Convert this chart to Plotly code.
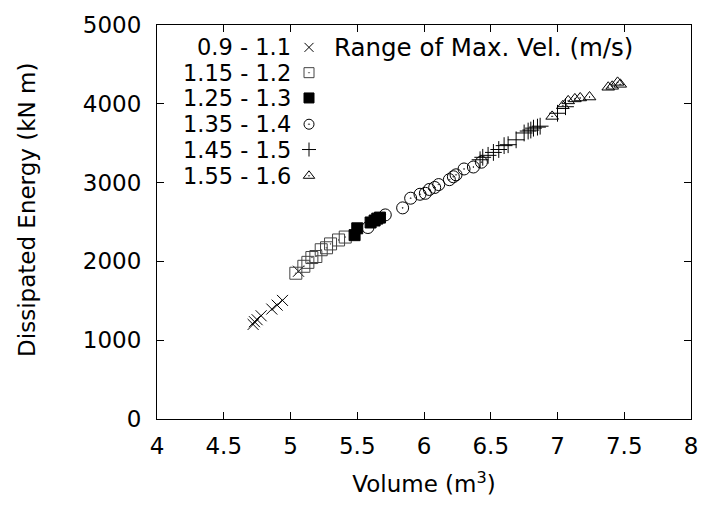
import plotly.graph_objects as go

# ---- data ----
labels = ["0.9 - 1.1", "1.15 - 1.2", "1.25 - 1.3", "1.35 - 1.4", "1.45 - 1.5", "1.55 - 1.6"]
legend_title = "Range of Max. Vel. (m/s)"
x_title = "Volume (m<sup>3</sup>)"
y_title = "Dissipated Energy (kN m)"

vol_1 = [4.72, 4.73, 4.75, 4.78, 4.86, 4.90, 4.94, 5.06]
en_1 = [1200, 1235, 1260, 1310, 1395, 1445, 1505, 1875]

vol_2 = [5.04, 5.10, 5.13, 5.16, 5.19, 5.23, 5.27, 5.30, 5.36, 5.41]
en_2 = [1850, 1938, 1988, 2049, 2062, 2148, 2173, 2222, 2272, 2309]

vol_3 = [5.48, 5.50, 5.60, 5.63, 5.65, 5.67]
en_3 = [2333, 2420, 2494, 2519, 2543, 2556]

vol_4 = [5.58, 5.71, 5.84, 5.90, 5.97, 6.01, 6.04, 6.08, 6.11, 6.19, 6.22, 6.24, 6.30, 6.37, 6.43]
en_4 = [2430, 2590, 2679, 2802, 2852, 2864, 2913, 2938, 2975, 3037, 3074, 3099, 3173, 3198, 3259]

vol_5 = [6.42, 6.44, 6.48, 6.52, 6.56, 6.60, 6.63, 6.69, 6.75, 6.78, 6.80, 6.82, 6.85, 6.87, 7.00, 7.06]
en_5 = [3290, 3321, 3346, 3383, 3420, 3469, 3481, 3543, 3630, 3654, 3667, 3691, 3704, 3716, 3880, 3963]

vol_6 = [6.96, 7.04, 7.08, 7.13, 7.17, 7.24, 7.38, 7.41, 7.45, 7.47]
en_6 = [3840, 3975, 4037, 4062, 4074, 4086, 4210, 4222, 4272, 4247]

x_ticks = [4, 4.5, 5, 5.5, 6, 6.5, 7, 7.5, 8]
x_tick_text = ["4", "4.5", "5", "5.5", "6", "6.5", "7", "7.5", "8"]
y_ticks = [0, 1000, 2000, 3000, 4000, 5000]

# ---- styling ----
FONT = "DejaVu Sans, Arial, sans-serif"
FS = 23
FS_KEY = 22.5
series = [
    (vol_1, en_1, "x-thin-open", 11, "#000000"),
    (vol_2, en_2, "square-open-dot", 12, "#444444"),
    (vol_3, en_3, "square", 11, "#000000"),
    (vol_4, en_4, "circle-open-dot", 12, "#000000"),
    (vol_5, en_5, "cross-thin-open", 12, "#000000"),
    (vol_6, en_6, "triangle-up-open-dot", 11, "#000000"),
]

fig = go.Figure()
for (vx, vy, sym, sz, col) in series:
    fig.add_trace(go.Scatter(
        x=vx, y=vy, mode="markers", showlegend=False,
        marker=dict(symbol=sym, size=sz, color=col,
                    line=dict(width=1, color=col)),
        xaxis="x", yaxis="y", hoverinfo="skip"))

# ---- key drawn gnuplot-style (text right-aligned, symbol to the right) ----
key_rows = [37, 63, 89, 116, 142, 169]
key_text_x = 295
key_sym_x = 311
legend_sizes = [9, 10, 10, 10, 10, 10]
for i, (row, lab) in enumerate(zip(key_rows, labels)):
    sym, col = series[i][2], series[i][4]
    fig.add_trace(go.Scatter(
        x=[key_sym_x], y=[row], mode="markers", showlegend=False,
        marker=dict(symbol=sym, size=legend_sizes[i], color=col,
                    line=dict(width=1, color=col)),
        xaxis="x2", yaxis="y2", hoverinfo="skip"))
    fig.add_annotation(x=key_text_x, y=row, xref="x2", yref="y2", text=lab,
                       showarrow=False, xanchor="right", yanchor="middle",
                       font=dict(family=FONT, size=FS_KEY, color="black"))
fig.add_annotation(x=334, y=key_rows[0], xref="x2", yref="y2", text=legend_title,
                   showarrow=False, xanchor="left", yanchor="middle",
                   font=dict(family=FONT, size=24.5, color="black"))

# y-axis title placed like the reference (slightly above the plot centre)
fig.add_annotation(x=-0.244, y=0.53, xref="paper", yref="paper", text=y_title,
                   textangle=-90, showarrow=False, xanchor="center", yanchor="middle",
                   font=dict(family=FONT, size=FS, color="black"))

axis_common = dict(showline=True, linecolor="black", linewidth=1, mirror="ticks",
                   ticks="inside", ticklen=7, tickcolor="black", showgrid=False,
                   zeroline=False, ticklabeloverflow="allow",
                   tickfont=dict(family=FONT, size=FS, color="black"))

fig.update_layout(
    width=710, height=512,
    margin=dict(l=157, r=12, t=14, b=93),
    paper_bgcolor="white", plot_bgcolor="white",
    font=dict(family=FONT, size=FS, color="black"),
    xaxis=dict(range=[4, 8], tickvals=x_ticks, ticktext=x_tick_text,
               ticklabelstandoff=6,
               title=dict(text=x_title, font=dict(family=FONT, size=FS), standoff=18),
               **axis_common),
    yaxis=dict(range=[0, 5000], tickvals=y_ticks, ticklabelstandoff=10,
               **axis_common),
    xaxis2=dict(range=[157, 698], overlaying="x", visible=False, fixedrange=True),
    yaxis2=dict(range=[419, 14], overlaying="y", visible=False, fixedrange=True),
)

fig.write_html("out.html")
